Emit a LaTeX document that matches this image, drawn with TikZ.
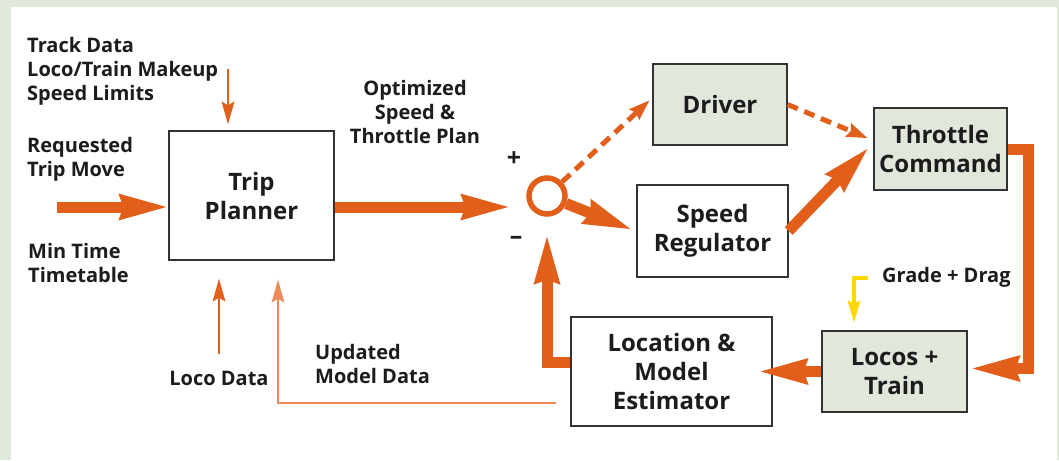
\documentclass[tikz,border=0pt]{standalone}
\usepackage{fontspec}
\setmainfont{Open Sans}
\usetikzlibrary{arrows.meta}
\definecolor{bgc}{HTML}{E1E8DC}
\definecolor{boxfill}{HTML}{E1E7DB}
\definecolor{org}{HTML}{E15F1B}
\definecolor{lorg}{HTML}{EC8A5C}
\definecolor{ylw}{HTML}{FFD800}
\definecolor{txt}{HTML}{1C1C1C}
\begin{document}
\begin{tikzpicture}[x=1pt,y=-1pt,
  blk/.style={draw=black!80, line width=1.3pt, text=txt, font=\fontsize{24}{29}\selectfont\bfseries, align=center, inner sep=0pt},
  lbl/.style={text=txt, font=\fontsize{20}{24}\selectfont\bfseries, inner sep=0pt},
  sgn/.style={text=txt, font=\fontsize{25}{25}\selectfont\bfseries, inner sep=0pt},
  bigarrow/.style={draw=org, line width=11pt, -{Stealth[length=48pt,width=27pt,inset=5pt,line width=0pt]}},
  dasharrow/.style={draw=org, line width=5pt, dash pattern=on 11pt off 7pt, -{Stealth[length=21pt,width=15pt,inset=3pt,line width=0pt]}},
  thinarrow/.style={draw=org, line width=1.5pt, -{Stealth[length=23pt,width=13pt,inset=4pt,line width=0pt]}},
  yarrow/.style={draw=ylw, line width=4pt, -{Stealth[length=22pt,width=13pt,inset=3pt,line width=0pt]}}
]
\useasboundingbox (0,0) rectangle (1059,460);
\fill[bgc] (0,0) rectangle (1059,460);
\fill[white] (11,7) rectangle (1057,460);

% blocks
\node[blk, minimum width=165pt, minimum height=129pt] (trip) at (251.5,195.5) {Trip\\Planner};
\node[blk, fill=boxfill, minimum width=134pt, minimum height=81pt] (drv) at (720,104.5) {Driver};
\node[blk, fill=boxfill, minimum width=133pt, minimum height=82pt] (thr) at (940.5,149) {Throttle\\Command};
\node[blk, minimum width=151pt, minimum height=92pt] (sr) at (712.5,231) {Speed\\Regulator};
\node[blk, minimum width=201pt, minimum height=109pt] (loc) at (671.5,371.5) {Location \&\\Model\\Estimator};
\node[blk, fill=boxfill, minimum width=145pt, minimum height=81pt] (locos) at (894.5,371.5) {Locos +\\Train};
\node[circle, draw=org, line width=5.5pt, minimum size=36pt, inner sep=0pt] (sum) at (547,196) {};

% labels
\node[lbl, anchor=west, align=left] (ltd) at (27,71) {Track Data\\Loco/Train Makeup\\Speed Limits};
\node[lbl, anchor=west, align=left] (lrq) at (27,159) {Requested\\Trip Move};
\node[lbl, anchor=west, align=left] (lmt) at (28,262.5) {Min Time\\Timetable};
\node[lbl, align=center] (lop) at (415,112) {Optimized\\Speed \&\\Throttle Plan};
\node[lbl] (lld) at (219,378) {Loco Data};
\node[lbl, anchor=west, align=left] (lum) at (315,363.5) {Updated\\Model Data};
\node[lbl, anchor=west] (lgd) at (882,277) {Grade + Drag};
\node[sgn] (lplus) at (514,159) {+};
\node[sgn] (lminus) at (516,240) {–};

% free ends
\coordinate (inA) at (57,207);
\coordinate (tdA) at (228,69);
\coordinate (ldA) at (219,354);
\coordinate (gdA) at (868,278);

% thick arrows
\draw[bigarrow, shorten >=2pt] (inA) -- (inA -| trip.west);
\draw[bigarrow, shorten >=18pt] (trip.east |- inA) -- (sum.west |- inA);
\draw[bigarrow] (sum) -- ([xshift=-6pt,yshift=2pt]sr.west);
\draw[bigarrow] (sr.east) -- ([xshift=-6pt]thr.west);
\draw[bigarrow, shorten >=20pt] ([yshift=9.5pt]loc.west) -| (sum.south);
\draw[bigarrow, shorten >=-12pt] (locos.west) -- (loc.east);
\draw[bigarrow, line join=miter] (thr.east) -- ++(21,0) |- ([xshift=5pt,yshift=3pt]locos.east);

% dashed arrows
\draw[dasharrow] (sum) -- ([xshift=-3pt,yshift=4pt]drv.west);
\draw[dasharrow] (drv.east) -- ([xshift=-6pt,yshift=11pt]thr.west);

% thin arrows
\draw[thinarrow, shorten >=6pt] (tdA) -- (tdA |- trip.north);
\draw[thinarrow, shorten >=18pt] (ldA) -- (ldA |- trip.south);
\draw[thinarrow, draw=lorg, shorten >=19pt] ([xshift=-14pt,yshift=-31.5pt]loc.west) -| ([xshift=26.5pt]trip.south);

% yellow
\draw[yarrow] (gdA) -| ([xshift=-40.5pt,yshift=8pt]locos.north);
\end{tikzpicture}
\end{document}
